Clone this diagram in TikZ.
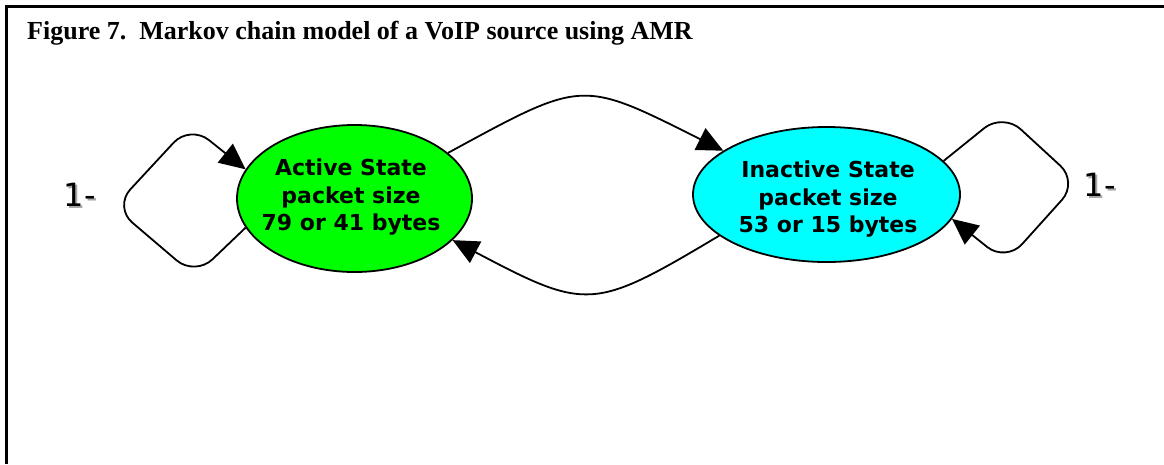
\documentclass[tikz,border=0pt]{standalone}
\usepackage{fontspec}
\setmainfont{Liberation Serif}
\newfontfamily\statefont{DejaVu Sans}
\usetikzlibrary{shapes.geometric,arrows.meta}
\definecolor{actgreen}{HTML}{00FF00}
\definecolor{idlecyan}{HTML}{00FFFF}
\definecolor{shade}{HTML}{A8A8A8}
\begin{document}
\begin{tikzpicture}[x=1pt,y=-1pt,
  state/.style={ellipse, draw=black, line width=1.8pt, inner sep=0pt},
  statetext/.style={font=\statefont\bfseries\fontsize{22}{27.5}\selectfont,
    align=center, inner sep=0pt},
  edge/.style={draw=black, line width=1.8pt,
    -{Triangle[length=26pt,width=24pt]}},
  prob/.style={font=\statefont\fontsize{32}{36}\selectfont, inner sep=0pt,
    anchor=base west},
  probshadow/.style={prob, text=shade}]
\useasboundingbox (0,0) rectangle (1164,464);

% frame: top and left rules only
\draw[line width=3pt] (1164,6) -- (6,6) -- (6,464);

% caption
\node[anchor=base west, inner sep=0pt,
  font=\bfseries\fontsize{26}{30}\selectfont] (title) at (27,39)
  {Figure 7.\ \ Markov chain model of a VoIP source using AMR};

% the two states
\node[state, fill=actgreen, minimum width=235pt, minimum height=147pt]
  (act) at (354.5,198.5) {};
\node[statetext] (actlbl) at (351,197.5)
  {Active State\\packet size\\79 or 41 bytes};
\node[state, fill=idlecyan, minimum width=267pt, minimum height=135pt]
  (idle) at (826.5,194.5) {};
\node[statetext] (idlelbl) at (828,199.5)
  {Inactive State\\packet size\\53 or 15 bytes};

% transitions between the states
\draw[edge] (act.26) .. controls (584,79) and (580,79) .. (idle.157);
\draw[edge] (idle.201) .. controls (593,311) and (587,311) .. (act.-23);

% self loops
\draw[edge, rounded corners=24pt] (act.195) -- (195,276) -- (114,207)
  -- (190,125) -- (act.165);
\draw[edge, rounded corners=24pt] (idle.16) -- (1003,113) -- (1078,182)
  -- (1006,262) -- (idle.-11);

% loop probabilities with drop shadow
\node[probshadow] (oneLs) at (65.5,208) {1-};
\node[prob] (oneL) at (63.5,206) {1-};
\node[probshadow] (oneRs) at (1085.5,198) {1-};
\node[prob] (oneR) at (1083.5,196) {1-};
\end{tikzpicture}
\end{document}
